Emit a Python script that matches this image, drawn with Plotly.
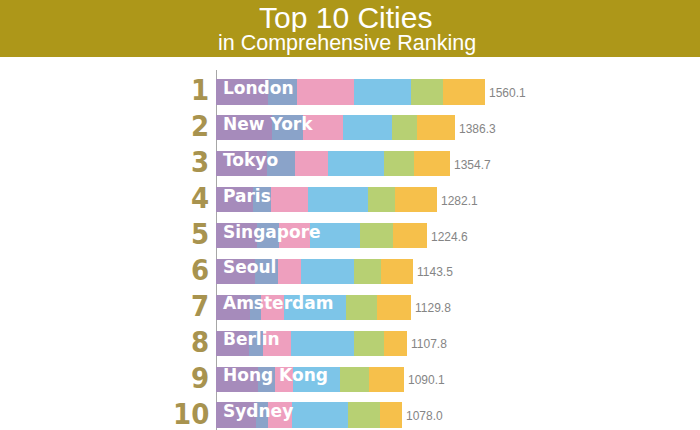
import plotly.graph_objects as go

cities = ["London", "New York", "Tokyo", "Paris", "Singapore",
          "Seoul", "Amsterdam", "Berlin", "Hong Kong", "Sydney"]
ranks = ["1", "2", "3", "4", "5", "6", "7", "8", "9", "10"]
totals = [1560.1, 1386.3, 1354.7, 1282.1, 1224.6, 1143.5, 1129.8, 1107.8, 1090.1, 1078.0]

# six stacked components per city
seg1 = [303.3, 323.1, 298.0, 213.0, 239.9, 228.5, 197.8, 193.1, 245.2, 232.2]
seg2 = [164.7, 183.3, 161.0, 104.5, 127.8, 128.2, 64.2, 81.2, 96.8, 71.5]
seg3 = [332.3, 232.0, 188.0, 216.4, 178.3, 136.3, 133.9, 158.9, 106.0, 136.0]
seg4 = [328.8, 282.4, 329.5, 349.7, 290.0, 309.9, 360.2, 367.2, 270.9, 328.5]
seg5 = [189.1, 146.8, 174.0, 154.9, 193.1, 151.4, 178.6, 174.0, 166.5, 180.0]
seg6 = [241.9, 218.7, 204.2, 243.6, 195.5, 189.2, 195.1, 133.4, 204.7, 129.8]

colors = ["#A68BBB", "#8AA3C9", "#EE9FBE", "#7DC5E8", "#B7D073", "#F6C04B"]

W, H = 700, 430
ML, MT = 216, 60
PW, PH = W - ML, H - MT


def px_x(p):
    return (p - ML) / PW


def px_y(p):
    return (H - p) / PH


rows = list(range(len(cities)))

fig = go.Figure()
for vals, c in zip([seg1, seg2, seg3, seg4, seg5, seg6], colors):
    fig.add_trace(go.Bar(
        x=vals, y=rows, orientation="h", width=0.7,
        marker=dict(color=c, line=dict(width=0)),
        hoverinfo="skip", showlegend=False,
    ))

annotations = []
for i, name in enumerate(cities):
    # rank number left of the axis line
    annotations.append(dict(
        x=0, y=i, xref="paper", yref="y", text=ranks[i], showarrow=False,
        xanchor="right", yanchor="middle", xshift=-5, yshift=1.5, height=26,
        font=dict(family="DejaVu Sans Condensed", size=29, color="#A8934F", weight="bold"),
    ))
    annotations.append(dict(
        x=0, y=i, xref="x", yref="y", text=name, showarrow=False,
        xanchor="left", yanchor="middle", xshift=5, yshift=4,
        font=dict(family="DejaVu Sans", size=17, color="white", weight="bold"),
    ))
    annotations.append(dict(
        x=totals[i], y=i, xref="x", yref="y", text=f"{totals[i]:.1f}",
        showarrow=False, xanchor="left", yanchor="middle", xshift=2, yshift=-1,
        font=dict(family="Liberation Sans", size=12, color="#858585"),
    ))

annotations.append(dict(
    x=px_x(345), y=px_y(17), xref="paper", yref="paper", height=29,
    text="Top 10 Cities", showarrow=False, xanchor="center", yanchor="middle",
    font=dict(family="Liberation Sans", size=30, color="white"),
))
annotations.append(dict(
    x=px_x(347), y=px_y(43.5), xref="paper", yref="paper", height=24,
    text="in Comprehensive Ranking", showarrow=False, xanchor="center", yanchor="middle",
    font=dict(family="Liberation Sans", size=21.5, color="white"),
))

shapes = [
    dict(type="rect", xref="paper", yref="paper",
         x0=px_x(0), x1=px_x(W), y0=px_y(57), y1=px_y(0),
         fillcolor="#AD9719", line=dict(width=0), layer="below"),
    dict(type="line", xref="x", yref="paper",
         x0=0, x1=0, y0=px_y(430), y1=px_y(70),
         line=dict(color="#8A8A8A", width=1.5), layer="below"),
]

fig.update_layout(
    width=W, height=H,
    margin=dict(l=ML, r=0, t=MT, b=0),
    barmode="stack",
    bargap=0,
    plot_bgcolor="white",
    paper_bgcolor="white",
    xaxis=dict(range=[0, PW / 0.17243], visible=False, fixedrange=True),
    yaxis=dict(range=[9.418, -0.891], visible=False, fixedrange=True),
    annotations=annotations,
    shapes=shapes,
)

fig.write_html("out.html", config={"displayModeBar": False},
               post_script="document.body.style.margin='0';")
